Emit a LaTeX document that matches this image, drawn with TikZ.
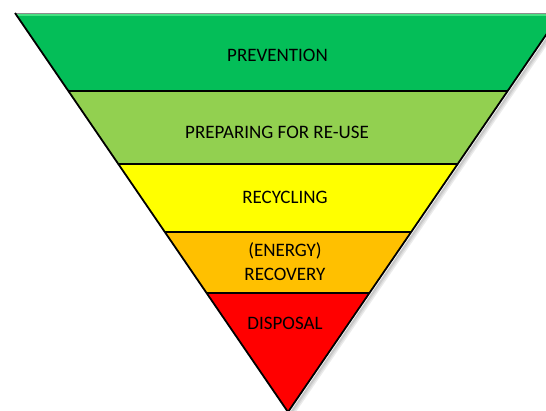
\documentclass[tikz,border=0pt]{standalone}
\usepackage{fontspec}
\setmainfont{Carlito}
\usetikzlibrary{calc}
\definecolor{cgreen}{RGB}{4,190,88}
\definecolor{cbevel}{RGB}{70,225,130}
\definecolor{clgreen}{RGB}{146,208,80}
\definecolor{cyellow}{RGB}{255,255,0}
\definecolor{corange}{RGB}{255,192,0}
\definecolor{cred}{RGB}{255,0,0}
\begin{document}
\begin{tikzpicture}[x=1pt,y=-1pt,
  edge/.style={draw=black,line width=1.8pt,line join=miter},
  lbl/.style={font=\fontsize{19}{23}\selectfont,text=black,align=center,inner sep=0pt}]
\useasboundingbox (0,0) rectangle (546,410);
\clip (0,0) rectangle (546,410);
\coordinate (A) at (15,13);
\coordinate (B) at (561,13);
\coordinate (C) at (288,412);
\foreach \n/\t in {1/0.1955,2/0.3784,3/0.5489,4/0.7018}{
  \coordinate (L\n) at ($(A)!\t!(C)$);
  \coordinate (R\n) at ($(B)!\t!(C)$);
}
% soft shadow
\foreach \o/\c in {4/8,3/14,2/22}{
  \draw[black!\c,line width=2pt] ($(A)+(\o,\o)$) -- ($(C)+(\o,\o)$) -- ($(B)+(\o,\o)$);
}
\fill[cgreen] (A) -- (B) -- (R1) -- (L1) -- cycle;
\fill[clgreen] (L1) -- (R1) -- (R2) -- (L2) -- cycle;
\fill[cyellow] (L2) -- (R2) -- (R3) -- (L3) -- cycle;
\fill[corange] (L3) -- (R3) -- (R4) -- (L4) -- cycle;
\fill[cred] (L4) -- (R4) -- (C) -- cycle;
% top bevel
\draw[cbevel,line width=1.5pt] ($(A)+(2,2)$) -- ($(B)+(-2,2)$);
\draw[black!45,line width=0.8pt] (A) -- (B);
% dividers and sides
\draw[edge] (L1) -- (R1);
\draw[edge] (L2) -- (R2);
\draw[edge] (L3) -- (R3);
\draw[edge] (L4) -- (R4);
\draw[edge] (A) -- (C) -- (B);
% labels
\node[lbl] (prev) at (277.5,55) {PREVENTION};
\node[lbl] (prep) at (277,132) {PREPARING FOR RE-USE};
\node[lbl] (recy) at (285,197) {RECYCLING};
\node[lbl] (reco) at (285,262) {(ENERGY)\\[1pt]RECOVERY};
\node[lbl] (disp) at (285,323) {DISPOSAL};
\end{tikzpicture}
\end{document}
